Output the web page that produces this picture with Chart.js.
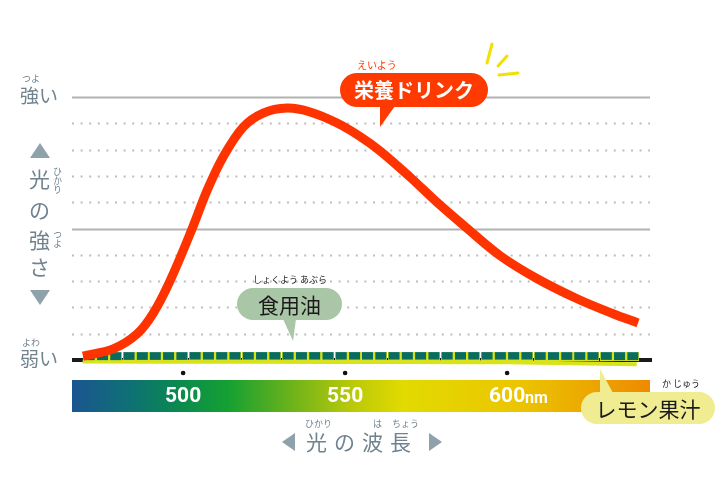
<!DOCTYPE html>
<html lang="ja">
<head>
<meta charset="utf-8">
<script src="https://cdn.jsdelivr.net/npm/chart.js@4.4.0/dist/chart.umd.min.js"></script>
<style>
  html, body { margin: 0; padding: 0; background: #fff; }
  #wrap { position: relative; width: 726px; height: 483px; overflow: hidden; font-family: 'Noto Sans CJK JP', sans-serif; }
  #chart { position: absolute; left: 0; top: 0; }
  .lbl { position: absolute; color: #6f838f; line-height: 1; white-space: nowrap; }
  .ruby { position: absolute; font-size: 9px; line-height: 1; white-space: nowrap; color: #6f838f; }
  .vruby { position: absolute; font-size: 9px; line-height: 1; color: #6f838f; writing-mode: vertical-rl; }
  .tri { position: absolute; width: 0; height: 0; }
  .bubble { position: absolute; border-radius: 17px; text-align: center; line-height: 1; white-space: nowrap; }
  .tail { position: absolute; width: 0; height: 0; }
</style>
</head>
<body>
<div id="wrap">
  <canvas id="chart" width="726" height="483"></canvas>

  <!-- 縦軸ラベル -->
  <div class="ruby" style="left:22px;top:74px;">つよ</div>
  <div class="lbl" style="left:20px;top:85px;font-size:19px;">強い</div>
  <div class="ruby" style="left:22px;top:338px;">よわ</div>
  <div class="lbl" style="left:20px;top:348px;font-size:19px;">弱い</div>

  <div class="tri" style="left:30px;top:143px;border-left:10px solid transparent;border-right:10px solid transparent;border-bottom:15px solid #8fa1aa;"></div>
  <div class="lbl" style="left:29px;top:168px;font-size:21px;">光</div>
  <div class="vruby" style="left:53px;top:167px;">ひかり</div>
  <div class="lbl" style="left:29px;top:199px;font-size:21px;">の</div>
  <div class="lbl" style="left:29px;top:229px;font-size:21px;">強</div>
  <div class="vruby" style="left:53px;top:230px;">つよ</div>
  <div class="lbl" style="left:29px;top:256px;font-size:21px;">さ</div>
  <div class="tri" style="left:30px;top:290px;border-left:10px solid transparent;border-right:10px solid transparent;border-top:15px solid #8fa1aa;"></div>

  <!-- 横軸ラベル -->
  <div class="tri" style="left:282px;top:433px;border-top:9px solid transparent;border-bottom:9px solid transparent;border-right:13px solid #8fa1aa;"></div>
  <div class="ruby" style="left:305px;top:419px;">ひかり</div>
  <div class="ruby" style="left:373px;top:419px;">は</div>
  <div class="ruby" style="left:392px;top:419px;">ちょう</div>
  <div class="lbl" style="left:306px;top:431px;font-size:21px;letter-spacing:7px;">光の波長</div>
  <div class="tri" style="left:429px;top:433px;border-top:9px solid transparent;border-bottom:9px solid transparent;border-left:13px solid #8fa1aa;"></div>

  <!-- 栄養ドリンク -->
  <svg style="position:absolute;left:480px;top:38px;" width="50" height="45">
    <line x1="12" y1="6" x2="7" y2="25" stroke="#f2e100" stroke-width="3" stroke-linecap="round"/>
    <line x1="27" y1="18" x2="18" y2="28" stroke="#f2e100" stroke-width="3" stroke-linecap="round"/>
    <line x1="19" y1="37" x2="38" y2="35" stroke="#f2e100" stroke-width="3" stroke-linecap="round"/>
  </svg>
  <div class="ruby" style="left:357px;top:60px;color:#ff3a00;font-size:10px;">えいよう</div>
  <div class="bubble" style="left:340px;top:73px;width:148px;height:34px;background:#ff3a00;color:#fff;font-size:20px;font-weight:bold;line-height:34px;">栄養ドリンク</div>
  <div class="tail" style="left:380px;top:106px;border-left:0 solid transparent;border-right:15px solid transparent;border-top:21px solid #ff3a00;"></div>

  <!-- 食用油 -->
  <div class="ruby" style="left:253px;top:275px;color:#222;font-size:9px;">しょくよう あぶら</div>
  <div class="bubble" style="left:237px;top:288px;width:105px;height:32px;background:#a9c7a6;color:#1a1a1a;font-size:21px;line-height:32px;">食用油</div>
  <div class="tail" style="left:283px;top:319px;border-left:10px solid transparent;border-right:3px solid transparent;border-top:22px solid #a9c7a6;"></div>

  <!-- レモン果汁 -->
  <div class="tail" style="left:600px;top:369px;border-left:0 solid transparent;border-right:13px solid transparent;border-bottom:24px solid #efec92;"></div>
  <div class="bubble" style="left:581px;top:392px;width:134px;height:32px;background:#efec92;color:#1a1a1a;font-size:21px;line-height:32px;">レモン果汁</div>
  <div class="ruby" style="left:662px;top:379px;color:#222;font-size:9px;">か じゅう</div>
</div>

<script>
// 目盛り（波長）
const tickWaves = [500, 550, 600];
const tickLabels = ['500', '550', '600'];

// 栄養ドリンク
const drinkWave = [469.1, 478.4, 485.8, 490.7, 496.0, 502.8, 507.4, 512.3, 518.5, 524.7, 532.1, 539.2, 547.5, 554.6, 560.8, 570.1, 578.4, 587.7, 597.8, 609.3, 621.6, 632.7, 640.4];
const drinkLevel = [0.15, 0.42, 0.99, 1.76, 3.02, 5.0, 6.45, 7.71, 8.85, 9.39, 9.58, 9.43, 9.01, 8.5, 7.95, 6.95, 5.99, 5.0, 3.97, 3.09, 2.33, 1.76, 1.41];

// 食用油
const oilWave = [471.0, 475.1, 479.2, 483.3, 487.4, 491.4, 495.5, 499.6, 503.7, 507.8, 511.9, 516.0, 520.1, 524.2, 528.3, 532.4, 536.5, 540.6, 544.7, 548.8, 552.9, 556.9, 561.0, 565.1, 569.2, 573.3, 577.4, 581.5, 585.6, 589.7, 593.8, 597.9, 602.0, 606.1, 610.2, 614.3, 618.4, 622.4, 626.5, 630.6, 634.7, 638.8];
const oilLevel = [0.13, 0.13, 0.13, 0.14, 0.14, 0.14, 0.14, 0.14, 0.15, 0.15, 0.15, 0.15, 0.15, 0.15, 0.15, 0.15, 0.15, 0.15, 0.15, 0.15, 0.15, 0.15, 0.15, 0.15, 0.15, 0.15, 0.15, 0.15, 0.15, 0.15, 0.15, 0.15, 0.15, 0.15, 0.14, 0.14, 0.14, 0.14, 0.14, 0.14, 0.13, 0.13];

// レモン果汁
const lemonWave = [469, 520, 570, 600, 620, 640];
const lemonLevel = [-0.06, -0.07, -0.08, -0.09, -0.12, -0.16];

// 下のスペクトル帯の色
const bandWave = [465.7, 482, 499, 514, 534, 551, 568, 603, 626, 644.1];
const bandColor = ['#1b5590', '#0f6e78', '#0a8a4e', '#15a032', '#6fb31a', '#b6c80a', '#e2da00', '#ebc600', '#eca600', '#ee8a00'];

const toPoints = (xs, ys) => xs.map((x, i) => ({ x: x, y: ys[i] }));

// 食用油のマーカー（緑の四角）
const oilMark = document.createElement('canvas');
oilMark.width = 13;
oilMark.height = 9;
(function () {
    const c = oilMark.getContext('2d');
    c.fillStyle = '#d6e21a';
    c.fillRect(0, 0, 13, 9);
    c.fillStyle = '#0b6b5c';
    c.fillRect(1, 0, 11, 8);
    c.fillStyle = '#2c8474';
    c.fillRect(1, 0, 11, 1);
})();

// 背景: 横線、スペクトル帯、目盛り
const backdrop = {
    id: 'backdrop',
    beforeDatasetsDraw(chart) {
        const ctx = chart.ctx;
        const xs = chart.scales.x, ys = chart.scales.y;
        const left = chart.chartArea.left, right = chart.chartArea.right;
        ctx.save();

        for (let v = 1; v <= 10; v++) {
            const y = Math.round(ys.getPixelForValue(v)) + 0.5;
            ctx.beginPath();
            if (v % 5 === 0) {
                ctx.setLineDash([]);
                ctx.strokeStyle = '#b2b2b2';
            } else {
                ctx.setLineDash([2, 6.6]);
                ctx.strokeStyle = '#bdbdbd';
            }
            ctx.lineWidth = 2;
            ctx.moveTo(left, y);
            ctx.lineTo(right, y);
            ctx.stroke();
        }
        ctx.setLineDash([]);

        // 基準線
        const y0 = ys.getPixelForValue(0);
        ctx.strokeStyle = '#1a1a1a';
        ctx.lineWidth = 4;
        ctx.beginPath();
        ctx.moveTo(left, y0);
        ctx.lineTo(right + 2, y0);
        ctx.stroke();

        // スペクトル帯
        const bx0 = xs.getPixelForValue(bandWave[0]);
        const bx1 = xs.getPixelForValue(bandWave[bandWave.length - 1]);
        const grad = ctx.createLinearGradient(bx0, 0, bx1, 0);
        bandWave.forEach((w, i) => {
            grad.addColorStop((xs.getPixelForValue(w) - bx0) / (bx1 - bx0), bandColor[i]);
        });
        ctx.fillStyle = grad;
        ctx.fillRect(bx0, 380, bx1 - bx0, 32);

        // 目盛りの点とラベル
        ctx.fillStyle = '#111';
        tickWaves.forEach(w => {
            ctx.beginPath();
            ctx.arc(xs.getPixelForValue(w), 373, 2.3, 0, Math.PI * 2);
            ctx.fill();
        });
        ctx.fillStyle = '#fff';
        ctx.textBaseline = 'middle';
        ctx.textAlign = 'center';
        ctx.font = "bold 21px 'Liberation Sans Narrow', 'Roboto', sans-serif";
        tickWaves.forEach((w, i) => {
            ctx.fillText(tickLabels[i], xs.getPixelForValue(w), 397);
        });
        ctx.textAlign = 'left';
        ctx.font = "bold 16px 'Liberation Sans Narrow', 'Roboto', sans-serif";
        ctx.fillText('nm', xs.getPixelForValue(600) + 18, 399);
        ctx.restore();
    }
};

new Chart(document.getElementById('chart'), {
    type: 'line',
    data: {
        datasets: [
            {
                label: '栄養ドリンク',
                data: toPoints(drinkWave, drinkLevel),
                borderColor: '#ff3300',
                borderWidth: 9,
                pointRadius: 0,
                tension: 0.35,
                clip: false,
                order: 0
            },
            {
                label: '食用油',
                data: toPoints(oilWave, oilLevel),
                showLine: false,
                pointStyle: oilMark,
                pointRadius: 6,
                clip: false,
                order: 1
            },
            {
                label: 'レモン果汁',
                data: toPoints(lemonWave, lemonLevel),
                borderColor: '#d9e21a',
                borderWidth: 4,
                pointRadius: 0,
                tension: 0.3,
                clip: false,
                order: 2
            }
        ]
    },
    options: {
        responsive: false,
        animation: false,
        layout: { padding: { left: 72, right: 76, top: 97, bottom: 123 } },
        scales: {
            x: { type: 'linear', min: 465.7, max: 644.1, display: false },
            y: { min: 0, max: 10, display: false }
        },
        plugins: { legend: { display: false }, tooltip: { enabled: false } }
    },
    plugins: [backdrop]
});
</script>
</body>
</html>
